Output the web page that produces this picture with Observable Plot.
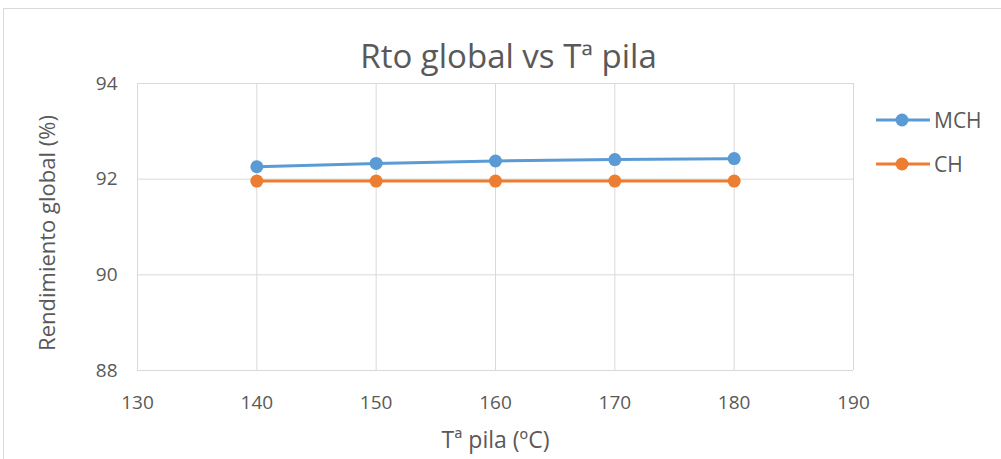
<!DOCTYPE html>
<html><head><meta charset="utf-8">
<script src="https://cdn.jsdelivr.net/npm/d3@7"></script>
<script src="https://cdn.jsdelivr.net/npm/@observablehq/plot@0.6"></script>
<style>
body{margin:0;background:#fff;font-family:"Open Sans",sans-serif;}
#wrap{position:relative;width:1001px;height:459px;overflow:hidden;}
#frame{position:absolute;left:3px;top:8px;width:1010px;height:470px;border:1px solid #d9d9d9;box-sizing:border-box;}
.leg{position:absolute;display:flex;align-items:center;font-size:21px;color:#595959;}
</style>
</head><body>
<div id="wrap"><div id="frame"></div><div id="chart"></div></div>
<script>
const temps = [140, 150, 160, 170, 180];
const mch = [92.26, 92.33, 92.38, 92.41, 92.43];
const ch = [91.96, 91.96, 91.96, 91.96, 91.96];
const seriesNames = ["MCH", "CH"];
const seriesColors = ["#5B9BD5", "#ED7D31"];
const xTicks = [130, 140, 150, 160, 170, 180, 190];
const yTicks = [88, 90, 92, 94];
const title = "Rto global vs Tª pila";
const xLabel = "Tª pila (ºC)";
const yLabel = "Rendimiento global (%)";

const data = [];
[mch, ch].forEach((vals, i) => temps.forEach((t, j) => data.push({t, v: vals[j], s: seriesNames[i]})));
const color = {domain: seriesNames, range: seriesColors};

const plot = Plot.plot({
  width: 1001, height: 459,
  marginLeft: 137, marginRight: 148, marginTop: 83, marginBottom: 89,
  style: {fontFamily: "'Open Sans', sans-serif", background: "transparent", color: "#595959"},
  x: {domain: [130, 190], ticks: xTicks, label: null},
  y: {domain: [88, 94], ticks: yTicks, label: null},
  color,
  marks: [
    Plot.gridX(xTicks, {stroke: "#d9d9d9", strokeOpacity: 1, strokeWidth: 1}),
    Plot.gridY(yTicks, {stroke: "#d9d9d9", strokeOpacity: 1, strokeWidth: 1}),
    Plot.axisX({ticks: xTicks, tickFormat: d => String(d), tickSize: 0, tickPadding: 25, fontSize: 19, fill: "#595959", label: null}),
    Plot.axisY({ticks: yTicks, tickFormat: d => String(d), tickSize: 0, tickPadding: 20, fontSize: 19, fill: "#595959", label: null}),
    Plot.line(data, {x: "t", y: "v", z: "s", stroke: "s", strokeWidth: 3, curve: "monotone-x"}),
    Plot.dot(data, {x: "t", y: "v", fill: "s", r: 6.5}),
    Plot.text([title], {frameAnchor: "top", lineAnchor: "middle", dx: 13, dy: -26, fontSize: 33, fill: "#595959"}),
    Plot.text([xLabel], {frameAnchor: "bottom", lineAnchor: "middle", dy: 70, fontSize: 23, fill: "#595959"}),
    Plot.text([yLabel], {frameAnchor: "left", textAnchor: "middle", lineAnchor: "middle", rotate: -90, dx: -90, dy: 6, fontSize: 22, fill: "#595959"})
  ]
});
document.getElementById("chart").appendChild(plot);

const wrap = document.getElementById("wrap");
const legTops = [106, 150];
seriesNames.forEach((n, i) => {
  const d = document.createElement("div");
  d.className = "leg";
  d.style.left = "876px";
  d.style.top = legTops[i] + "px";
  d.innerHTML = `<svg width="54" height="24"><line x1="0" y1="12" x2="54" y2="12" stroke="${seriesColors[i]}" stroke-width="3"/><circle cx="26" cy="12" r="6.5" fill="${seriesColors[i]}"/></svg><span style="margin-left:4px">${n}</span>`;
  wrap.appendChild(d);
});
</script>
</body></html>
